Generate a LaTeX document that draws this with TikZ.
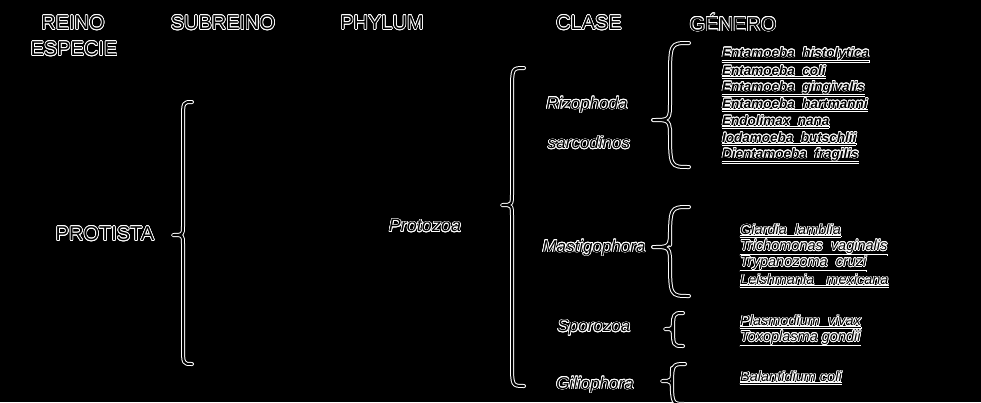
\documentclass[tikz,border=0pt]{standalone}
\usepackage{fontspec}
\setmainfont{Liberation Sans}
\usepackage{contour}
\contourlength{0.7pt}
\newcommand{\halo}[1]{\contour{white}{#1}}
\newcommand{\mybrace}[6]{% tip x, line x, end x, top y, tip y, bottom y
  \foreach \w/\c in {4pt/white,2pt/black}{
  \draw[line width=\w,\c,line cap=round,line join=round]
   (#3,#4) .. controls (#2,#4) .. (#2,#4+2*#3-2*#2)
   -- (#2,#5-#3+#2) .. controls (#2,#5) .. (#1,#5)
   .. controls (#2,#5) .. (#2,#5+#3-#2)
   -- (#2,#6-2*#3+2*#2) .. controls (#2,#6) .. (#3,#6);}}
\tikzset{
  head/.style={inner sep=0pt,font=\fontsize{20}{22}\selectfont},
  cls/.style={inner sep=0pt,font=\fontsize{17}{19}\selectfont\itshape},
  gen/.style={inner sep=0pt,anchor=west,font=\fontsize{13.5}{15}\selectfont\bfseries\itshape},
  genb/.style={inner sep=0pt,anchor=west,font=\fontsize{14.5}{16}\selectfont\itshape},
}
\begin{document}
\begin{tikzpicture}[x=1pt,y=-1pt]
\fill[black] (0,0) rectangle (981,402);
\useasboundingbox (0,0) rectangle (981,402);
% headers
\node[head] (reino) at (73,23) {\halo{REINO}};
\node[head] (especie) at (74,49) {\halo{ESPECIE}};
\node[head] (subreino) at (223,23) {\halo{SUBREINO}};
\node[head] (phylum) at (382,23) {\halo{PHYLUM}};
\node[head] (clase) at (589,23) {\halo{CLASE}};
\node[head] (genero) at (733,23) {\halo{GÉNERO}};
% main
\node[head] (protista) at (105,234) {\halo{PROTISTA}};
\mybrace{173}{183}{192}{102}{235}{364}
\node[cls,font=\fontsize{18}{20}\selectfont\itshape] (protozoa) at (425,226) {\halo{Protozoa}};
\mybrace{502}{512}{524}{68}{205}{386}
% classes
\node[cls] (rizo) at (587,105) {\halo{Rizophoda}};
\node[cls] (sarc) at (589,143) {\halo{sarcodinos}};
\node[cls] (mast) at (594,248) {\halo{Mastigophora}};
\node[cls] (spor) at (594,328) {\halo{Sporozoa}};
\node[cls] (cili) at (595,385) {\halo{Giliophora}};
% brackets for genera
\mybrace{653}{670}{689}{43}{120}{167}
\mybrace{653}{670}{689}{207}{247}{296}
\mybrace{665}{673}{683}{313}{329}{346}
\mybrace{662}{672}{685}{364}{381}{404}
% genera
\node[gen] (g1) at (722,55) {\halo{\underline{Entamoeba\ \ histolytica}}};
\node[gen] (g2) at (722,72) {\halo{\underline{Entamoeba\ \ coli}}};
\node[gen] (g3) at (722,89) {\halo{\underline{Entamoeba\ \ gingivalis}}};
\node[gen] (g4) at (722,105) {\halo{\underline{Entamoeba\ \ hartmanni}}};
\node[gen] (g5) at (722,122) {\halo{\underline{Endolimax\ \ nana}}};
\node[gen] (g6) at (722,139) {\halo{\underline{Iodamoeba\ \ butschlii}}};
\node[gen] (g7) at (722,156) {\halo{\underline{Dientamoeba\ \ fragilis}}};
\node[genb] (h1) at (740,231) {\halo{\underline{Giardia\ \ lamblia}}};
\node[genb] (h2) at (740,248) {\halo{\underline{Trichomonas\ \ vaginalis}}};
\node[genb] (h3) at (740,264) {\halo{\underline{Trypanozoma\ \ cruzi}}};
\node[genb] (h4) at (740,281) {\halo{\underline{Leishmania\ \ \ mexicana}}};
\node[genb] (h5) at (740,322) {\halo{\underline{Plasmodium\ \ vivax}}};
\node[genb] (h6) at (740,339) {\halo{\underline{Toxoplasma\ gondii}}};
\node[genb] (h7) at (740,378) {\halo{\underline{Balantidium\ coli}}};
\end{tikzpicture}
\end{document}
